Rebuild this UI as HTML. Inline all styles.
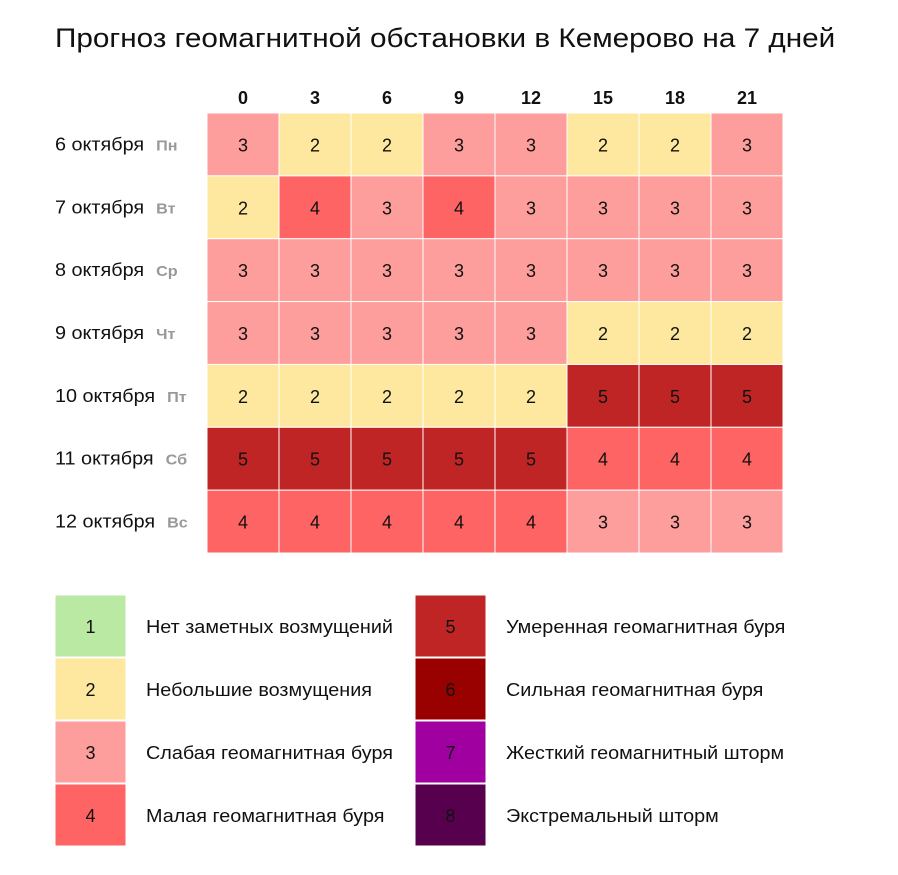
<!DOCTYPE html>
<html><head><meta charset="utf-8">
<style>
body{margin:0;background:#fff;width:898px;height:870px;overflow:hidden;font-family:"Liberation Sans",Arial,sans-serif;}
svg text{font-family:"Liberation Sans",Arial,sans-serif;}
</style></head>
<body>
<svg id="chart" width="898" height="870" xmlns="http://www.w3.org/2000/svg">
<text class="st" x="55" y="47" font-size="27" fill="#111">Прогноз геомагнитной обстановки в Кемерово на 7 дней</text>
<g id="grid"></g>
<g id="legend"></g>
</svg>
<script>
const hours = ["0","3","6","9","12","15","18","21"];
const dates = ["6 октября","7 октября","8 октября","9 октября","10 октября","11 октября","12 октября"];
const weekdays = ["Пн","Вт","Ср","Чт","Пт","Сб","Вс"];
const kp = [
 [3,2,2,3,3,2,2,3],
 [2,4,3,4,3,3,3,3],
 [3,3,3,3,3,3,3,3],
 [3,3,3,3,3,2,2,2],
 [2,2,2,2,2,5,5,5],
 [5,5,5,5,5,4,4,4],
 [4,4,4,4,4,3,3,3]
];
const levels = [1,2,3,4,5,6,7,8];
const levelLabels = ["Нет заметных возмущений","Небольшие возмущения","Слабая геомагнитная буря","Малая геомагнитная буря","Умеренная геомагнитная буря","Сильная геомагнитная буря","Жесткий геомагнитный шторм","Экстремальный шторм"];
const colors = {1:"#b9e9a3",2:"#fee89f",3:"#fe9e9c",4:"#fe6464",5:"#c02525",6:"#990000",7:"#a000a0",8:"#56004e"};

const NS="http://www.w3.org/2000/svg";
function mk(tag,attrs,parent,txt){const e=document.createElementNS(NS,tag);for(const k in attrs)e.setAttribute(k,attrs[k]);if(txt!==undefined)e.textContent=txt;parent.appendChild(e);return e;}
const x0=207,y0=113,cw=72,ch=62.86;
const xPos=i=>x0+i*cw, yPos=j=>y0+j*ch;
const grid=document.getElementById('grid');
hours.forEach((h,i)=>{
  const t=mk('text',{x:xPos(i)+cw/2,y:104,'font-size':18,'font-weight':'bold','text-anchor':'middle',fill:'#111'},grid,h);
  
  
});
dates.forEach((d,j)=>{
  const t=mk('text',{class:'st',x:55,y:yPos(j)+ch/2+6,'font-size':18,fill:'#111'},grid,d);
  
  
  const w=mk('text',{class:'wd',x:55,y:yPos(j)+ch/2+6,'font-size':15,'font-weight':'bold',fill:'#999'},grid,weekdays[j]);
  
  
  kp[j].forEach((v,i)=>{
    const r=mk('rect',{x:xPos(i),y:yPos(j),width:cw,height:ch,fill:colors[v],stroke:'#fff','stroke-width':1},grid);
    
    
    const c=mk('text',{x:xPos(i)+cw/2,y:yPos(j)+ch/2+7,'font-size':18,'text-anchor':'middle',fill:'#111'},grid,v);
    
    
  });
});
const lg=document.getElementById('legend');
levels.forEach((l,k)=>{
  const col=Math.floor(k/4), row=k%4;
  const lx=55+col*360, ly=595+row*63;
  const r=mk('rect',{x:lx,y:ly,width:71,height:62,fill:colors[l],stroke:'#fff','stroke-width':1},lg);
  
  
  const n=mk('text',{x:lx+35.5,y:ly+38,'font-size':18,'text-anchor':'middle',fill:'#111'},lg,l);
  
  
  const t=mk('text',{class:'st',x:lx+91,y:ly+38,'font-size':18,fill:'#111'},lg,levelLabels[k]);
  
  
});
// widen text to match the reference font metrics
document.querySelectorAll('text.st').forEach(t=>{
  const w=t.getComputedTextLength();
  t.setAttribute('textLength',(w*1.1).toFixed(1));
  t.setAttribute('lengthAdjust','spacingAndGlyphs');
});
// place weekday after date
const dl=[...document.querySelectorAll('#grid text.st')], wd=[...document.querySelectorAll('#grid text.wd')];
wd.forEach((w,i)=>{
  const end=55+parseFloat(dl[i].getAttribute('textLength'));
  w.setAttribute('x',(end+12).toFixed(1));
  const ww=w.getComputedTextLength();
  w.setAttribute('textLength',(ww*1.08).toFixed(1));
  w.setAttribute('lengthAdjust','spacingAndGlyphs');
});
</script>
</body></html>
